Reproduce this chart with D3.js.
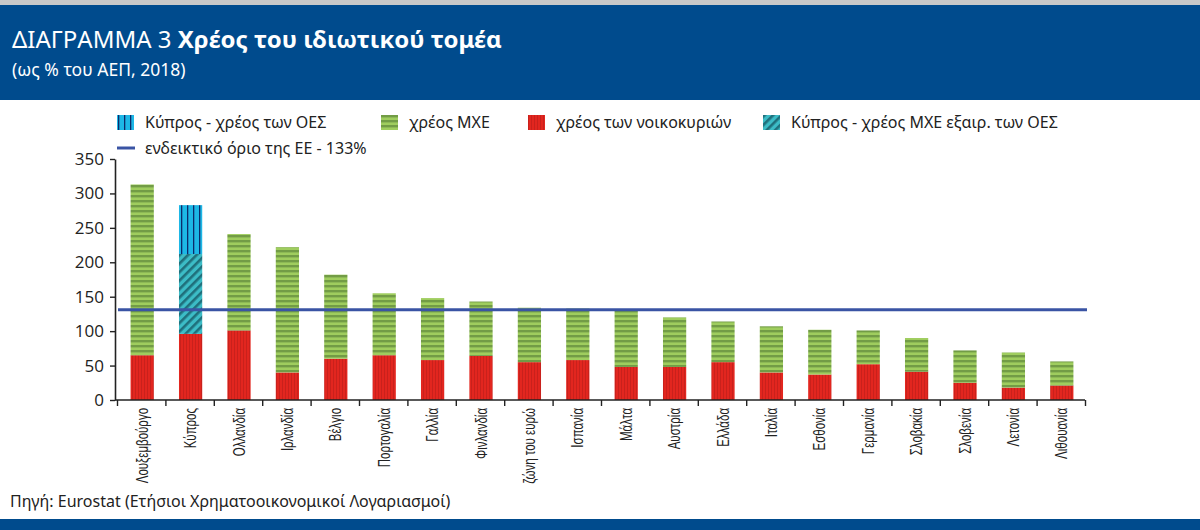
<!DOCTYPE html>
<html>
<head>
<meta charset="utf-8">
<script src="https://cdn.jsdelivr.net/npm/d3@7"></script>
<style>
  body { margin: 0; background: #fff; }
  svg { display: block; font-family: "Noto Sans", "DejaVu Sans", sans-serif; }
</style>
</head>
<body>
<div id="chart"></div>
<script>
// data (% of GDP, 2018)
const countries = ["Λουξεμβούργο", "Κύπρος", "Ολλανδία", "Ιρλανδία", "Βέλγιο", "Πορτογαλία", "Γαλλία",
    "Φινλανδία", "ζώνη του ευρώ", "Ισπανία", "Μάλτα", "Αυστρία", "Ελλάδα", "Ιταλία", "Εσθονία",
    "Γερμανία", "Σλοβακία", "Σλοβενία", "Λετονία", "Λιθουανία"];
const householdDebt = [65, 96, 101, 40, 60, 65, 58, 64, 55, 58, 48, 48, 55, 40, 37, 52, 41, 25, 18, 21];
const nfcDebt       = [248, 0, 140, 182, 122, 90, 90, 79, 79, 75, 83, 72, 59, 67, 65, 49, 49, 47, 51, 35];
const cyprusNfcExSpe = [0, 116, 0, 0, 0, 0, 0, 0, 0, 0, 0, 0, 0, 0, 0, 0, 0, 0, 0, 0];
const cyprusSpe      = [0, 71, 0, 0, 0, 0, 0, 0, 0, 0, 0, 0, 0, 0, 0, 0, 0, 0, 0, 0];
const euLimit = 131;
const yTicks = [0, 50, 100, 150, 200, 250, 300, 350];

const width = 1200, height = 530;
const svg = d3.select("#chart").append("svg")
    .attr("width", width)
    .attr("height", height);

const defs = svg.append("defs");

// patterns for the bars
const pGreen = defs.append("pattern").attr("id", "p-green")
    .attr("patternUnits", "userSpaceOnUse").attr("width", 10).attr("height", 5);
pGreen.append("rect").attr("width", 10).attr("height", 5).attr("fill", "#9fcd5e");
pGreen.append("rect").attr("y", 0).attr("width", 10).attr("height", 2.4).attr("fill", "#729c46");

const pRed = defs.append("pattern").attr("id", "p-red")
    .attr("patternUnits", "userSpaceOnUse").attr("width", 3).attr("height", 10);
pRed.append("rect").attr("width", 3).attr("height", 10).attr("fill", "#e2261f");
pRed.append("rect").attr("width", 1).attr("height", 10).attr("fill", "#c9211c");

const pHatch = defs.append("pattern").attr("id", "p-hatch")
    .attr("patternUnits", "userSpaceOnUse").attr("width", 6).attr("height", 6)
    .attr("patternTransform", "rotate(45)");
pHatch.append("rect").attr("width", 6).attr("height", 6).attr("fill", "#3cbcc6");
pHatch.append("rect").attr("width", 2.6).attr("height", 6).attr("fill", "#1f6f7b");

const pBlue = defs.append("pattern").attr("id", "p-blue")
    .attr("patternUnits", "userSpaceOnUse").attr("width", 6).attr("height", 10);
pBlue.append("rect").attr("width", 6).attr("height", 10).attr("fill", "#1db7e6");
pBlue.append("rect").attr("x", 1).attr("width", 1.3).attr("height", 10).attr("fill", "#0c2b6b");

// header and footer bands
svg.append("rect").attr("x", 0).attr("y", 0).attr("width", width).attr("height", 5).attr("fill", "#c8c8c8");
svg.append("rect").attr("x", 0).attr("y", 5).attr("width", width).attr("height", 95).attr("fill", "#004b8d");
svg.append("rect").attr("x", 0).attr("y", 519).attr("width", width).attr("height", 11).attr("fill", "#004b8d");

const title = svg.append("text").attr("x", 12).attr("y", 48)
    .attr("fill", "#fff").style("font-size", "24px");
title.append("tspan").text("ΔΙΑΓΡΑΜΜΑ 3 ");
title.append("tspan").style("font-weight", "bold").text("Χρέος του ιδιωτικού τομέα");

svg.append("text").attr("x", 12).attr("y", 76)
    .attr("fill", "#fff").style("font-size", "17.5px")
    .text("(ως % του ΑΕΠ, 2018)");

svg.append("text").attr("x", 10).attr("y", 507)
    .attr("fill", "#222").style("font-size", "16px")
    .text("Πηγή: Eurostat (Ετήσιοι Χρηματοοικονομικοί Λογαριασμοί)");

// scales
const x = d3.scaleBand()
    .domain(countries)
    .range([118, 1086])
    .paddingInner(0.52)
    .paddingOuter(0.26);

const xEdge = d3.scaleLinear()
    .domain([0, countries.length])
    .range([117, 1085]);

const y = d3.scaleLinear()
    .domain([0, 350])
    .range([400, 159]);

// stacked bars
const rows = countries.map((c, i) => ({
    country: c,
    household: householdDebt[i],
    nfc: nfcDebt[i],
    nfcExSpe: cyprusNfcExSpe[i],
    spe: cyprusSpe[i]
}));
const keys = ["household", "nfc", "nfcExSpe", "spe"];
const fills = { household: "url(#p-red)", nfc: "url(#p-green)", nfcExSpe: "url(#p-hatch)", spe: "url(#p-blue)" };
const series = d3.stack().keys(keys)(rows);

svg.append("g")
    .selectAll("g")
    .data(series)
    .join("g")
    .attr("fill", d => fills[d.key])
    .selectAll("rect")
    .data(d => d.filter(v => v[1] - v[0] > 0))
    .join("rect")
    .attr("x", d => x(d.data.country))
    .attr("width", x.bandwidth())
    .attr("y", d => y(d[1]))
    .attr("height", d => y(d[0]) - y(d[1]));

// y axis
const yAxis = svg.append("g")
    .attr("transform", "translate(115,0)")
    .call(d3.axisLeft(y).tickValues(yTicks).tickSize(5).tickSizeOuter(0).tickPadding(6));
yAxis.select(".domain").attr("stroke", "#222").attr("stroke-width", 1.6);
yAxis.selectAll(".tick line").attr("stroke", "#222").attr("stroke-width", 1.4);
yAxis.selectAll(".tick text")
    .style("font-size", "17px")
    .style("font-family", "'Open Sans', sans-serif")
    .attr("fill", "#222");

// x axis: ticks at category edges
const xTicks = svg.append("g")
    .attr("transform", "translate(0,400)")
    .call(d3.axisBottom(xEdge).tickValues(d3.range(countries.length + 1)).tickFormat("").tickSize(6).tickSizeOuter(0));
xTicks.select(".domain").attr("d", `M115,0H${xEdge(countries.length)}`)
    .attr("stroke", "#222").attr("stroke-width", 1.6);
xTicks.selectAll(".tick line").attr("stroke", "#222").attr("stroke-width", 1.4);

// x labels (condensed by scaling along the baseline)
const xLabels = svg.append("g")
    .attr("transform", "translate(0,400)")
    .call(d3.axisBottom(x).tickSize(0).tickPadding(0));
xLabels.select(".domain").remove();
xLabels.selectAll(".tick text")
    .attr("transform", "rotate(-90) scale(0.72,1)")
    .attr("text-anchor", "end")
    .attr("x", -11)
    .attr("y", 0)
    .attr("dy", "0.35em")
    .style("font-size", "16px")
    .attr("fill", "#222");

// EU indicative limit
svg.append("line")
    .attr("x1", 118).attr("x2", 1087)
    .attr("y1", y(euLimit)).attr("y2", y(euLimit))
    .attr("stroke", "#3a54a4").attr("stroke-width", 3);

// legend
const legendItems = [
    { label: "Κύπρος - χρέος των ΟΕΣ", fill: "url(#p-blue)", x: 117 },
    { label: "χρέος ΜΧΕ", fill: "url(#p-green)", x: 381 },
    { label: "χρέος των νοικοκυριών", fill: "url(#p-red)", x: 528 },
    { label: "Κύπρος - χρέος ΜΧΕ εξαιρ. των ΟΕΣ", fill: "url(#p-hatch)", x: 763 }
];
const legend = svg.append("g").attr("class", "legend");
const li = legend.selectAll("g").data(legendItems).join("g")
    .attr("transform", d => `translate(${d.x},115)`);
li.append("rect").attr("width", 17).attr("height", 15).attr("fill", d => d.fill);
li.append("text").attr("x", 28).attr("y", 13)
    .style("font-size", "16px").attr("fill", "#222").text(d => d.label);

const l2 = legend.append("g").attr("transform", "translate(117,140)");
l2.append("line").attr("x1", 0).attr("x2", 18).attr("y1", 8).attr("y2", 8)
    .attr("stroke", "#3a54a4").attr("stroke-width", 3);
l2.append("text").attr("x", 28).attr("y", 14)
    .style("font-size", "16px").attr("fill", "#222").text("ενδεικτικό όριο της ΕΕ - 133%");
</script>
</body>
</html>
